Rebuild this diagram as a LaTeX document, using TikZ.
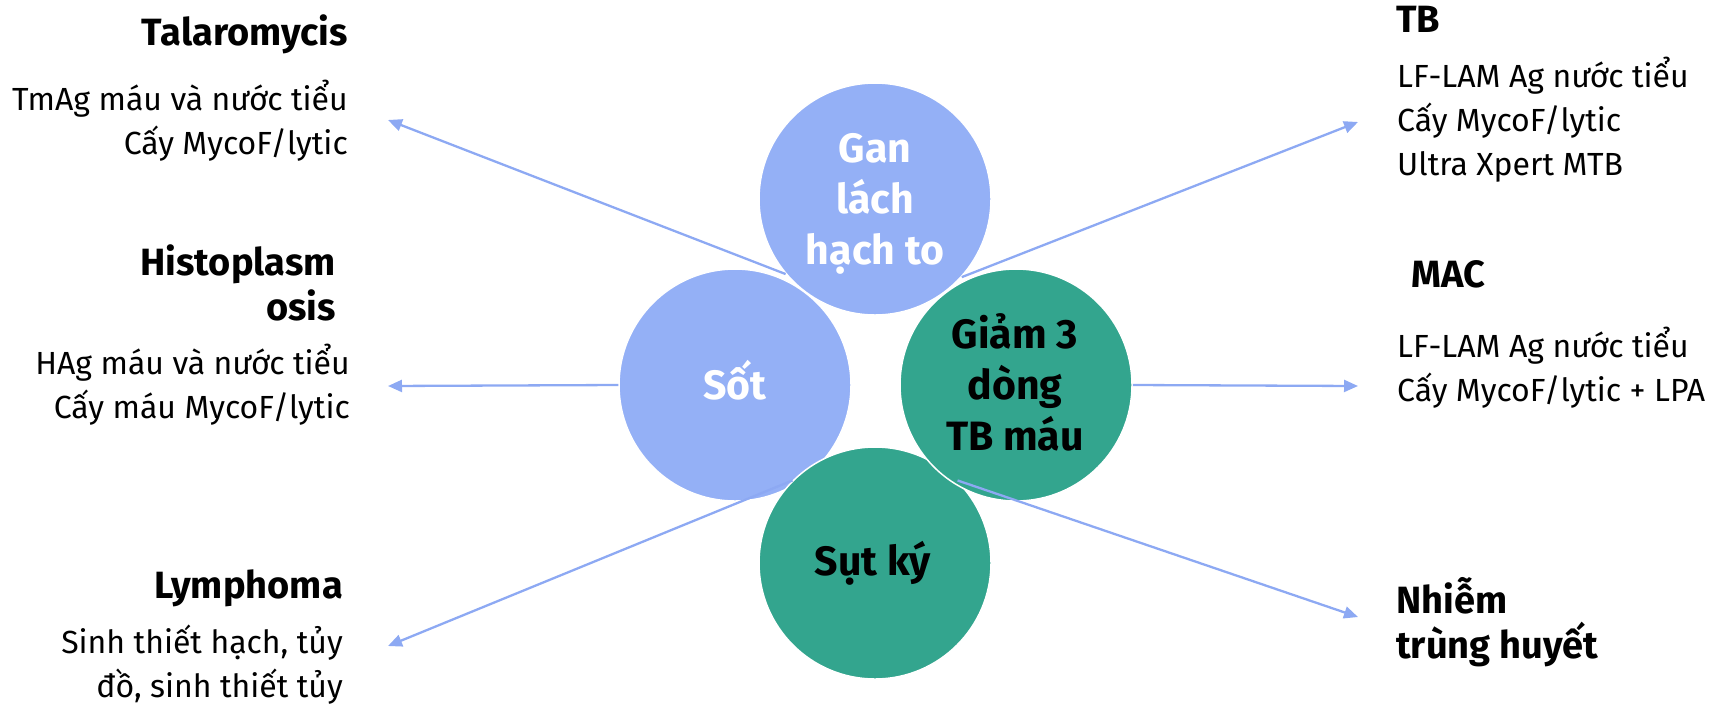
\documentclass[tikz,border=0pt]{standalone}
\usepackage{fontspec}
\setmainfont{Fira Sans}
\usetikzlibrary{arrows.meta}
\definecolor{cblue}{HTML}{94B0F6}
\definecolor{cgreen}{HTML}{33A58E}
\definecolor{carrow}{HTML}{8DA9F3}
\newcommand\rlines[1]{\vtop{\halign{\hfil##\cr#1\crcr}}}
\newcommand\llines[1]{\vtop{\halign{##\hfil\cr#1\crcr}}}
\newcommand\clines[1]{\vtop{\halign{\hfil##\hfil\cr#1\crcr}}}
\tikzset{
  circ/.style={circle, minimum size=232pt, inner sep=0pt, draw=white, line width=1.5pt},
  bluec/.style={circ, fill=cblue},
  greenc/.style={circ, fill=cgreen},
  ctext/.style={inner sep=0pt, anchor=base, font=\bfseries\fontsize{41}{51}\selectfont},
  title/.style={inner sep=0pt, font=\bfseries\fontsize{38}{45}\selectfont},
  body/.style={inner sep=0pt, font=\fontsize{32}{44}\selectfont},
  arr/.style={draw=carrow, line width=2.3pt, -{Triangle[length=14pt,width=12pt]}}
}
\begin{document}
\begin{tikzpicture}[x=1pt,y=-1pt]
\useasboundingbox (0,0) rectangle (1723,705);
% circles
\node[bluec] (gan) at (875,199) {};
\node[bluec] (sot) at (735,385) {};
\node[greenc] (sut) at (875,563) {};
\node[greenc] (giam) at (1016,385) {};
% circle texts
\node[ctext, text=white] (tgan) at (875,162) {\clines{Gan\cr lách\cr hạch to}};
\node[ctext, text=white] (tsot) at (735,399) {Sốt};
\node[ctext, text=black] (tgiam) at (1015,348) {\clines{Giảm 3\cr dòng\cr TB máu}};
\node[ctext, text=black] (tsut) at (873,575) {Sụt ký};
% arrow end points
\coordinate (eTal) at (388,120);
\coordinate (eHis) at (388,386);
\coordinate (eLym) at (388,646);
\coordinate (eTB) at (1358,122);
\coordinate (eMAC) at (1358,386);
\coordinate (eNhi) at (1358,617);
% connectors
\draw[arr] (gan.220.8) -- (eTal);
\draw[arr] (sot.west) -- (eHis);
\draw[arr] (sut.135.4) -- (eLym);
\draw[arr] (gan.318) -- (eTB);
\draw[arr] (giam.east) -- (eMAC);
\draw[arr] (sut.45) -- (eNhi);
% left texts
\node[title, anchor=base east] (hTal) at (348,45) {Talaromycis};
\node[body, anchor=base east] (bTal) at (348,110) {\rlines{TmAg máu và nước tiểu\cr Cấy MycoF/lytic}};
\node[title, anchor=base east] (hHis) at (336,275) {\rlines{Histoplasm\cr osis}};
\node[body, anchor=base east] (bHis) at (350,374) {\rlines{HAg máu và nước tiểu\cr Cấy máu MycoF/lytic}};
\node[title, anchor=base east] (hLym) at (343,598) {Lymphoma};
\node[body, anchor=base east] (bLym) at (343,653) {\rlines{Sinh thiết hạch, tủy\cr đồ, sinh thiết tủy}};
% right texts
\node[title, anchor=base west] (hTB) at (1396,32) {TB};
\node[body, anchor=base west] (bTB) at (1397,87) {\llines{LF-LAM Ag nước tiểu\cr Cấy MycoF/lytic\cr Ultra Xpert MTB}};
\node[title, anchor=base west] (hMAC) at (1411,287) {MAC};
\node[body, anchor=base west] (bMAC) at (1397,357) {\llines{LF-LAM Ag nước tiểu\cr Cấy MycoF/lytic + LPA}};
\node[title, anchor=base west] (hNhi) at (1396,613) {\llines{Nhiễm\cr trùng huyết}};
\end{tikzpicture}
\end{document}
